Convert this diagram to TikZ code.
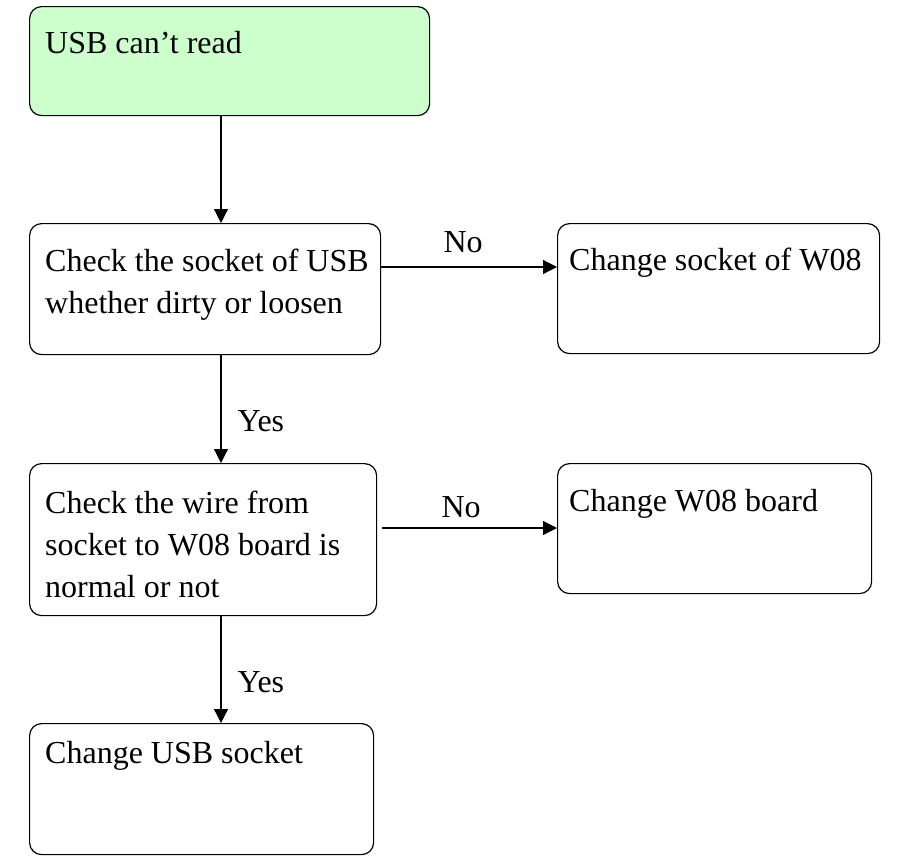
\documentclass[tikz,border=0pt]{standalone}
\usepackage{fontspec}
\setmainfont{Liberation Serif}
\usetikzlibrary{arrows.meta}
\definecolor{startgreen}{RGB}{204,255,204}

\begin{document}
\begin{tikzpicture}
[   x=1pt,y=-1pt,
    box/.style={draw=black,fill=#1,line width=1.2pt,rounded corners=12pt,anchor=north west,inner sep=0pt},
    box/.default=white,
    txt/.style={anchor=base west,inner sep=0pt,align=left,font=\fontsize{32}{42}\selectfont},
    lbl/.style={inner sep=0pt,font=\fontsize{32}{42}\selectfont},
    arr/.style={-{Triangle[length=14pt,width=14pt]},line width=1.2pt},
]
    \useasboundingbox (0,0) rectangle (897,855);
    % boxes
    \node[box=startgreen,minimum width=400pt,minimum height=109pt] (read) at (29,6) {};
    \node[box,minimum width=351pt,minimum height=131pt] (sock) at (29,223) {};
    \node[box,minimum width=322pt,minimum height=130pt] (chsock) at (557,223) {};
    \node[box,minimum width=347pt,minimum height=152pt] (wire) at (29,463) {};
    \node[box,minimum width=314pt,minimum height=130pt] (chboard) at (557,463) {};
    \node[box,minimum width=344pt,minimum height=131pt] (chusb) at (29,723) {};
    % texts (base = last line)
    \node[txt] (read-t) at (45,53) {USB can't read};
    \node[txt] (sock-t) at (45,313) {Check the socket of USB\\whether dirty or loosen};
    \node[txt] (chsock-t) at (569,270) {Change socket of W08};
    \node[txt] (wire-t) at (45,597) {Check the wire from\\socket to W08 board is\\normal or not};
    \node[txt] (chboard-t) at (569,511) {Change W08 board};
    \node[txt] (chusb-t) at (45,763) {Change USB socket};
    % connectors
    \coordinate (spine) at (221,0);
    \coordinate (row1) at (0,267);
    \coordinate (row2) at (0,528);
    \draw[arr] (read.south -| spine) -- (sock.north -| spine);
    \draw[arr] (sock.south -| spine) -- node[lbl,anchor=base west,xshift=16pt,yshift=-22pt] {Yes} (wire.north -| spine);
    \draw[arr] (wire.south -| spine) -- node[lbl,anchor=base west,xshift=16pt,yshift=-23pt] {Yes} (chusb.north -| spine);
    \draw[arr] (sock.east |- row1) -- node[lbl,anchor=base,xshift=-6pt,yshift=15pt] {No} (chsock.west |- row1);
    \draw[arr,shorten <=5pt] (wire.east |- row2) -- node[lbl,anchor=base,xshift=-6pt,yshift=11pt] {No} (chboard.west |- row2);
\end{tikzpicture}
\end{document}
